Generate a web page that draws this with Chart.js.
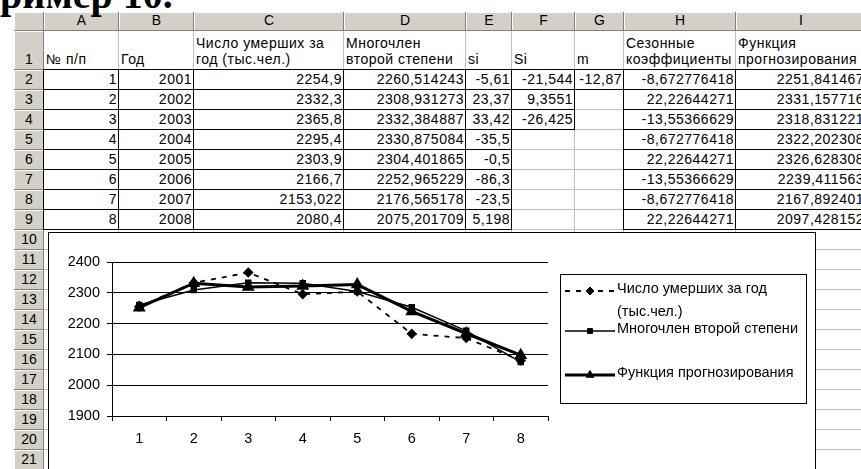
<!DOCTYPE html>
<html>
<head>
<meta charset="utf-8">
<script src="https://cdn.jsdelivr.net/npm/chart.js@4.4.0/dist/chart.umd.min.js"></script>
<style>
html, body { margin: 0; padding: 0; background: #fff; overflow: hidden; width: 861px; height: 469px; }
#sheet { position: absolute; left: 0; top: 0; width: 861px; height: 469px; overflow: hidden; font-family: "Liberation Sans", Arial, sans-serif; font-size: 14px; letter-spacing: 0.5px; color: #000; }
.c { position: absolute; box-sizing: border-box; border-right: 1px solid #c0c0c0; border-bottom: 1px solid #c0c0c0; white-space: pre; overflow: visible; padding: 0 1px 2px 2px; display: flex; align-items: flex-end; line-height: 16px; }
.num { justify-content: flex-end; }
.hd { background: #d4d0c8; border-right: 1px solid #808080; border-bottom: 1px solid #808080; box-shadow: inset 1px 1px 0 #fff; justify-content: center; overflow: hidden; letter-spacing: 0; }
.bx { position: absolute; box-sizing: border-box; border: 1px solid #000; pointer-events: none; }
#title { position: absolute; left: -31px; top: -25px; font: bold 40px "Liberation Serif", "Times New Roman", serif; line-height: 40px; white-space: nowrap; }
#chartBox { position: absolute; left: 48px; top: 232px; width: 768px; height: 245px; box-sizing: border-box; border: 1px solid #000; background: #fff; }
#chartBox canvas { position: absolute; left: 0; top: 0; }
</style>
</head>
<body>
<div id="sheet"></div>
<div id="title">Пример 10.</div>
<div id="chartBox"><canvas id="chart" width="766" height="236"></canvas></div>

<script>
// данные таблицы
let nums = [1, 2, 3, 4, 5, 6, 7, 8];
let years = [2001, 2002, 2003, 2004, 2005, 2006, 2007, 2008];
let deaths = [2254.9, 2332.3, 2365.8, 2295.4, 2303.9, 2166.7, 2153.022, 2080.4];
let poly = [2260.514243, 2308.931273, 2332.384887, 2330.875084, 2304.401865, 2252.965229, 2176.565178, 2075.201709];
let si = [-5.61, 23.37, 33.42, -35.5, -0.5, -86.3, -23.5, 5.198];
let bigSi = [-21.544, 9.3551, -26.425];
let mVal = [-12.87];
let seasonal = [-8.672776418, 22.22644271, -13.55366629, -8.672776418, 22.22644271, -13.55366629, -8.672776418, 22.22644271];
let forecast = [2251.841467, 2331.157716, 2318.831221, 2322.202308, 2326.628308, 2239.411563, 2167.892401, 2097.428152];

let colLetters = ['A', 'B', 'C', 'D', 'E', 'F', 'G', 'H', 'I'];
let headers = ['№ п/п', 'Год', 'Число умерших за\nгод (тыс.чел.)', 'Многочлен\nвторой степени', 'si', 'Si', 'm', 'Сезонные\nкоэффициенты', 'Функция\nпрогнозирования'];
let seriesNames = ['Число умерших за год (тыс.чел.)', 'Многочлен второй степени', 'Функция прогнозирования'];

// сетка листа
let colX = [14, 44, 119, 194, 344, 466, 512, 575, 624, 736, 866];
let rowY = [12, 31, 70];
for (let r = 0; r < 20; r++) {
    rowY.push(rowY[rowY.length - 1] + 20);
}

let sheet = document.getElementById('sheet');

function fmt(v) {
    return String(v).replace('.', ',');
}

function cell(col, row, text, cls) {
    let d = document.createElement('div');
    d.className = 'c ' + (cls || '');
    d.style.left = colX[col] + 'px';
    d.style.top = rowY[row] + 'px';
    d.style.width = (colX[col + 1] - colX[col]) + 'px';
    d.style.height = (rowY[row + 1] - rowY[row]) + 'px';
    d.textContent = text;
    sheet.appendChild(d);
}

function box(col, row) {
    let d = document.createElement('div');
    d.className = 'bx';
    d.style.left = (colX[col] - 1) + 'px';
    d.style.top = (rowY[row] - 1) + 'px';
    d.style.width = (colX[col + 1] - colX[col] + 1) + 'px';
    d.style.height = (rowY[row + 1] - rowY[row] + 1) + 'px';
    sheet.appendChild(d);
}

// шапка
cell(0, 0, '', 'hd');
for (let i = 0; i < colLetters.length; i++) {
    cell(i + 1, 0, colLetters[i], 'hd');
}
for (let r = 1; r < rowY.length - 1; r++) {
    cell(0, r, String(r), 'hd');
}

// пустые ячейки
for (let r = 1; r < rowY.length - 1; r++) {
    for (let c = 1; c < colX.length - 1; c++) {
        cell(c, r, '');
    }
}

// заголовки
for (let i = 0; i < headers.length; i++) {
    cell(i + 1, 1, headers[i]);
}

let columns = [nums, years, deaths, poly, si, bigSi, mVal, seasonal, forecast];
for (let c = 0; c < columns.length; c++) {
    for (let j = 0; j < columns[c].length; j++) {
        cell(c + 1, j + 2, fmt(columns[c][j]), 'num');
        box(c + 1, j + 2);
    }
}

// легенда в рамке
const legendBox = {
    id: 'legendBox',
    afterDraw(chart) {
        const ctx = chart.ctx;
        const L = 511, T = 41, W = 246, H = 129;
        const entryY = [58, 98, 142];
        ctx.save();
        ctx.strokeStyle = '#000';
        ctx.lineWidth = 1;
        ctx.strokeRect(L + 0.5, T + 0.5, W, H);
        ctx.font = '14.5px "Liberation Sans", Arial, sans-serif';
        ctx.textBaseline = 'middle';
        ctx.fillStyle = '#000';
        chart.data.datasets.forEach((ds, i) => {
            let y = entryY[i];
            ctx.save();
            ctx.strokeStyle = '#000';
            ctx.lineWidth = ds.borderWidth;
            ctx.setLineDash(ds.borderDash || []);
            ctx.beginPath();
            ctx.moveTo(L + 5, y);
            ctx.lineTo(L + 55, y);
            ctx.stroke();
            ctx.setLineDash([]);
            ctx.fillStyle = '#000';
            ctx.lineWidth = 1;
            Chart.helpers.drawPoint(ctx, { pointStyle: ds.pointStyle, radius: ds.pointRadius, rotation: 0, borderWidth: 1 }, L + 30, y);
            ctx.restore();

            let words = ds.label.split(' ');
            let lines = [];
            let line = '';
            words.forEach(w => {
                let test = line ? line + ' ' + w : w;
                if (ctx.measureText(test).width > 190 && line) {
                    lines.push(line);
                    line = w;
                } else {
                    line = test;
                }
            });
            lines.push(line);
            lines.forEach((t, k) => {
                ctx.fillText(t, L + 57, y - 2 + k * 23);
            });
        });
        ctx.restore();
    }
};

const tickFont = { family: '"Liberation Sans", Arial, sans-serif', size: 14.5 };

const ctx = document.getElementById('chart');
new Chart(ctx, {
    type: 'line',
    data: {
        labels: nums,
        datasets: [{
            label: seriesNames[0],
            data: deaths,
            borderColor: '#000',
            backgroundColor: '#000',
            pointBackgroundColor: '#000',
            pointBorderColor: '#000',
            borderWidth: 1.8,
            borderDash: [5, 6],
            pointStyle: 'rectRot',
            pointRadius: 4
        }, {
            label: seriesNames[1],
            data: poly,
            borderColor: '#000',
            backgroundColor: '#000',
            pointBackgroundColor: '#000',
            pointBorderColor: '#000',
            borderWidth: 1.5,
            pointStyle: 'rect',
            pointRadius: 3.5
        }, {
            label: seriesNames[2],
            data: forecast,
            borderColor: '#000',
            backgroundColor: '#000',
            pointBackgroundColor: '#000',
            pointBorderColor: '#000',
            borderWidth: 3,
            pointStyle: 'triangle',
            pointRadius: 4.5
        }]
    },
    options: {
        responsive: false,
        animation: false,
        layout: { padding: { left: 0, top: 29, right: 267, bottom: 0 } },
        plugins: { legend: { display: false }, tooltip: { enabled: false } },
        scales: {
            x: {
                offset: true,
                grid: { offset: true, drawOnChartArea: false, drawTicks: true, tickLength: 5, color: '#000' },
                border: { color: '#000' },
                ticks: { color: '#000', font: tickFont, padding: 9, maxRotation: 0 },
                afterFit(scale) { scale.height = 53; }
            },
            y: {
                min: 1900,
                max: 2400,
                ticks: { stepSize: 100, color: '#000', padding: 7, font: tickFont, callback: v => String(v) },
                grid: { color: '#000', tickLength: 5 },
                border: { color: '#000' },
                afterFit(scale) { scale.width = 63; }
            }
        }
    },
    plugins: [legendBox]
});
</script>
</body>
</html>
